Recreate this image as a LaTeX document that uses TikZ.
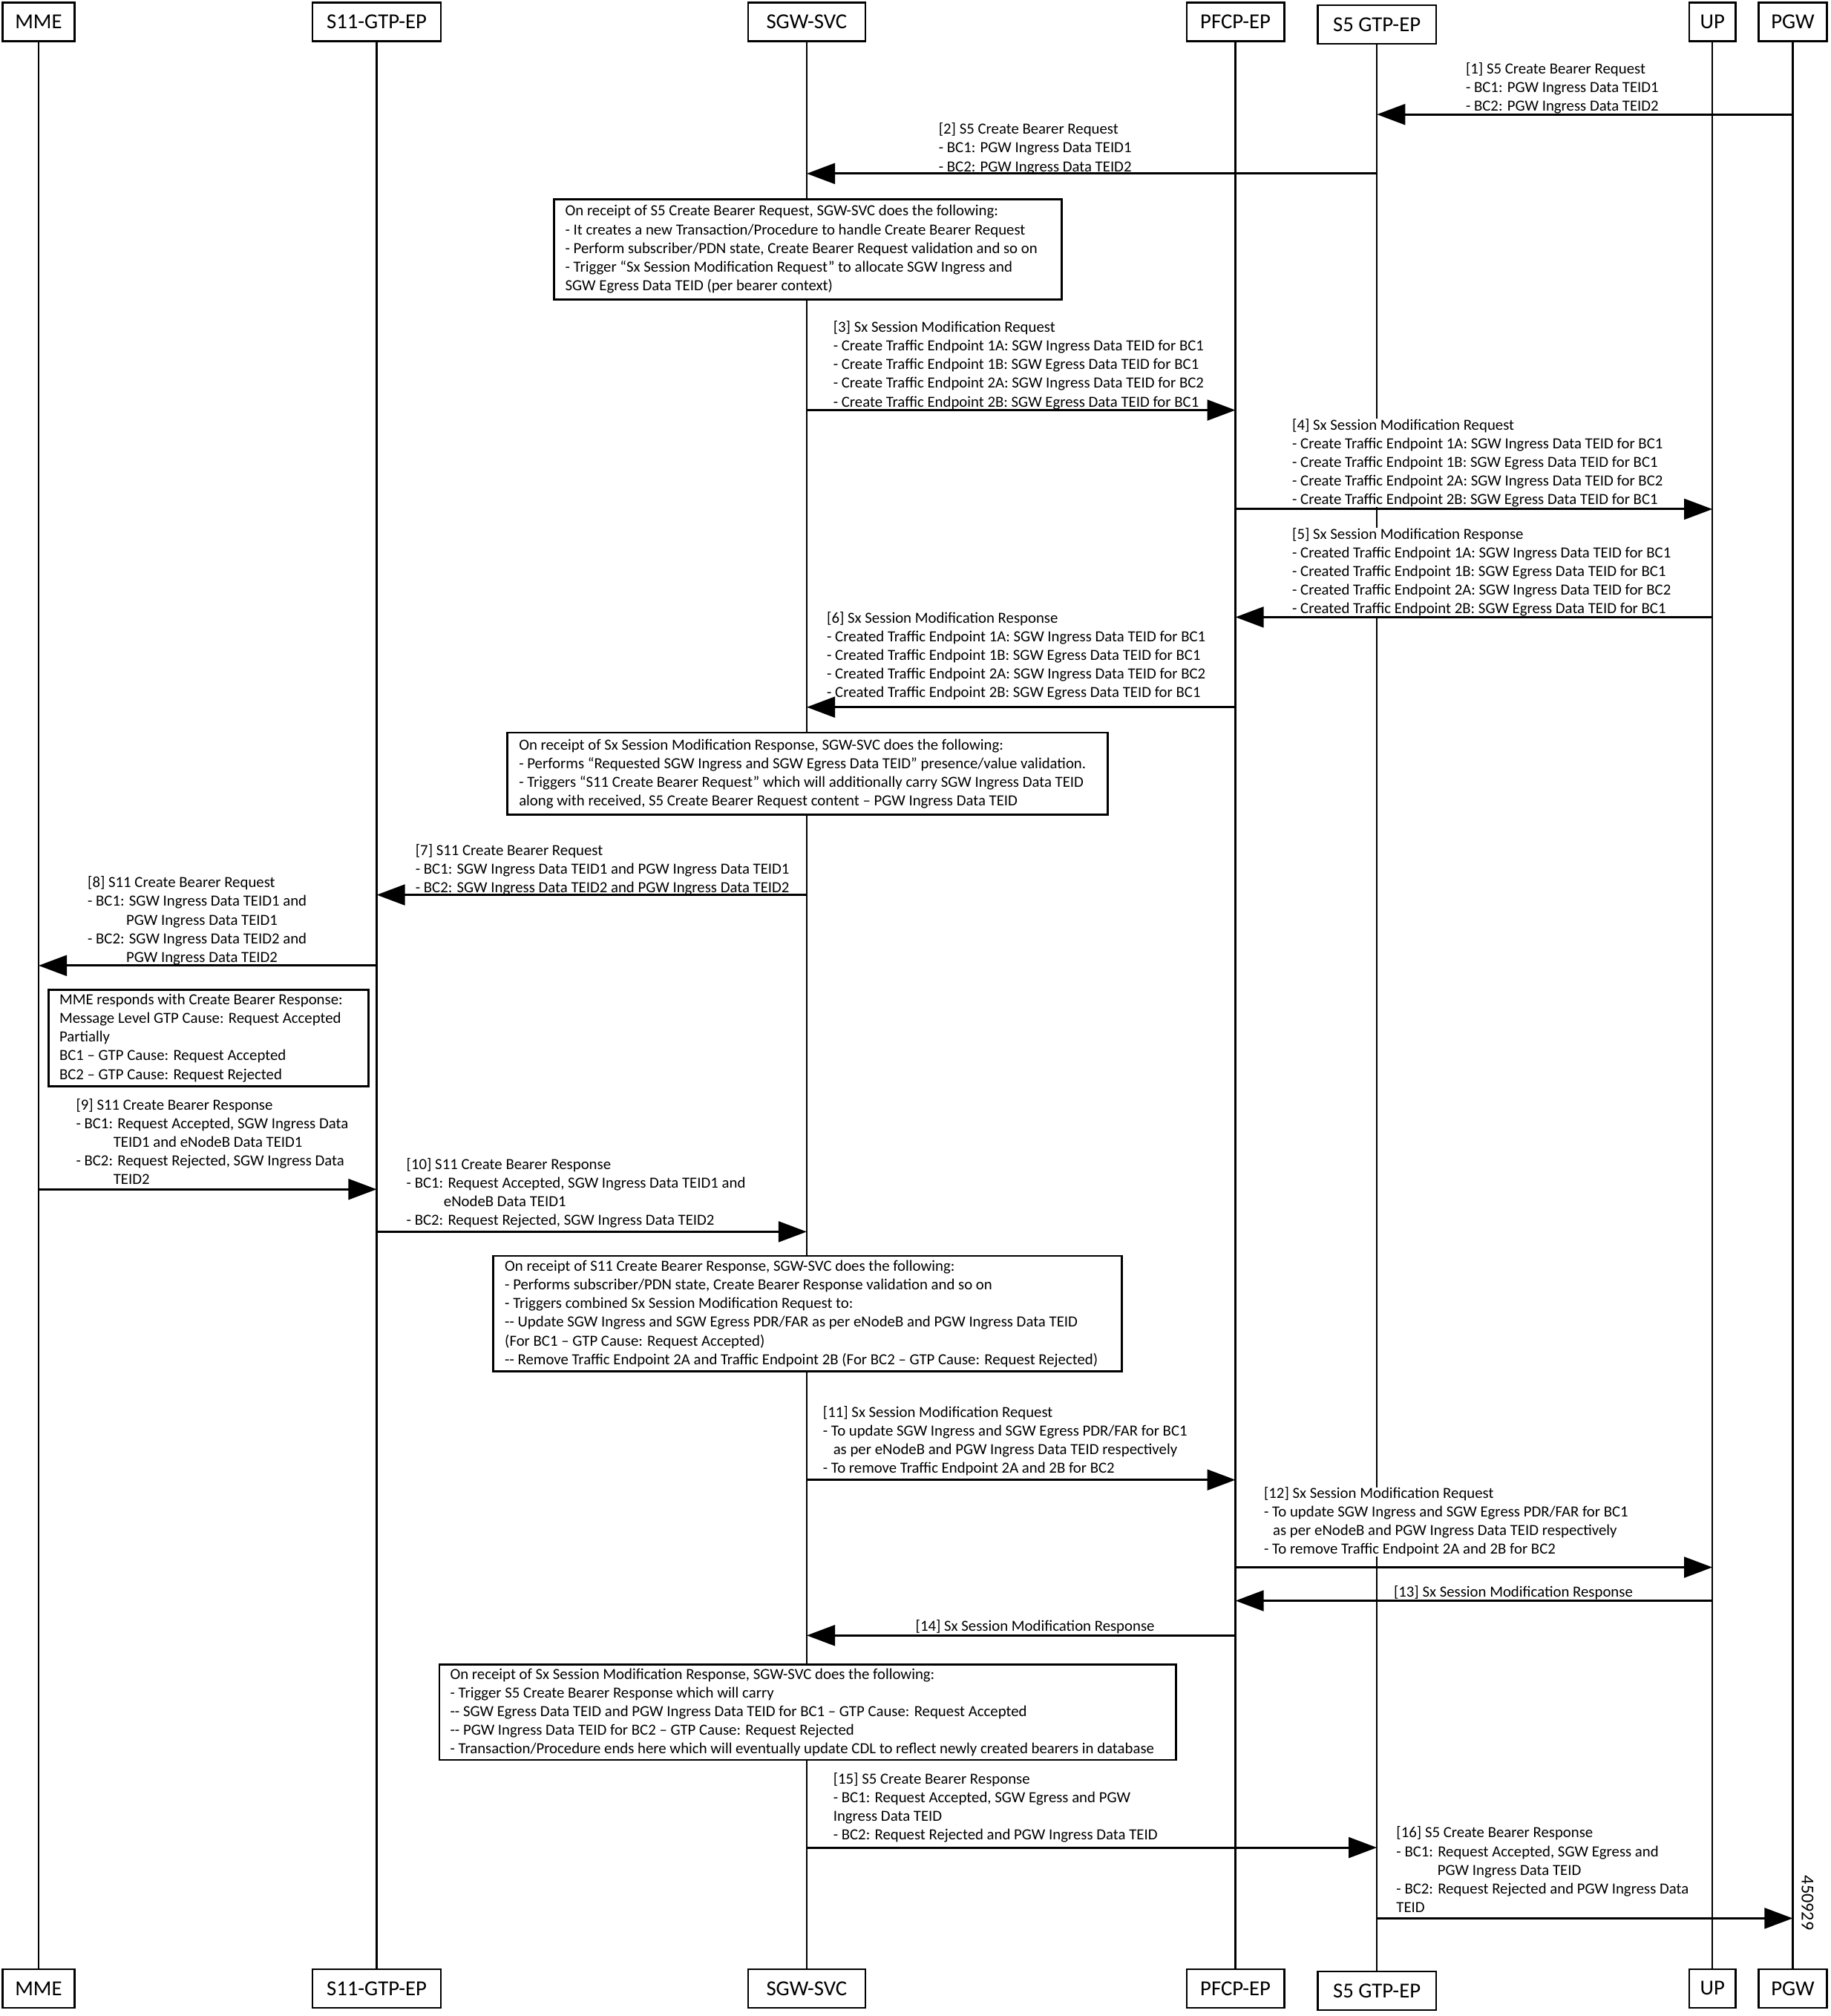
\documentclass[tikz,border=0pt]{standalone}
\usepackage{fontspec}
\setmainfont{Carlito}
\usepackage{xcolor}
\usepackage{tikz}
\usetikzlibrary{arrows.meta}

\tikzset{
  actor/.style = {draw, line width = 1.4pt, fill = white, minimum height = 30pt, inner sep = 0pt, font = \fontsize{16.6}{20}\selectfont},
  lifeline/.style = {line width = 1.3pt},
  msg/.style = {line width = 1.8pt, -{Triangle[length = 22pt, width = 16pt]}},
  msgtext/.style = {anchor = north west, align = left, inner sep = 0pt, fill = white, yshift = -1pt, font = \fontsize{12}{14.5}\selectfont},
  notebox/.style = {draw, line width = 1.6pt, fill = white, anchor = north west, inner sep = 0pt},
  notetext/.style = {anchor = west, align = left, inner sep = 0pt, font = \fontsize{12}{14.5}\selectfont}
}

\begin{document}
\begin{tikzpicture}[x = 1pt, y = -1pt]
    \useasboundingbox (0, 0) rectangle (1424, 1568);
    {
      \node[actor, minimum width = 56pt] (MME) at (30, 17) {MME};
      \node[actor, minimum width = 100pt] (S11) at (293, 17) {S11-GTP-EP};
      \node[actor, minimum width = 91pt] (SGW) at (627.5, 17) {SGW-SVC};
      \node[actor, minimum width = 76pt] (PFCP) at (961, 17) {PFCP-EP};
      \node[actor, minimum width = 92pt] (S5) at (1071, 19) {S5 GTP-EP};
      \node[actor, minimum width = 36pt] (UP) at (1332, 17) {UP};
      \node[actor, minimum width = 53pt] (PGW) at (1394.5, 17) {PGW};
    }
    {
      \node[actor, minimum width = 56pt] (MMEb) at (30, 1546.5) {MME};
      \node[actor, minimum width = 100pt] (S11b) at (293, 1546.5) {S11-GTP-EP};
      \node[actor, minimum width = 91pt] (SGWb) at (627.5, 1546.5) {SGW-SVC};
      \node[actor, minimum width = 76pt] (PFCPb) at (961, 1546.5) {PFCP-EP};
      \node[actor, minimum width = 92pt] (S5b) at (1071, 1548.5) {S5 GTP-EP};
      \node[actor, minimum width = 36pt] (UPb) at (1332, 1546.5) {UP};
      \node[actor, minimum width = 53pt] (PGWb) at (1394.5, 1546.5) {PGW};
    }
    \draw[lifeline] (MME.south) -- (MMEb.north);
    \draw[lifeline] (S11.south) -- (S11b.north);
    \draw[lifeline] (SGW.south) -- (SGWb.north);
    \draw[lifeline] (PFCP.south) -- (PFCPb.north);
    \draw[lifeline] (S5.south) -- (S5b.north);
    \draw[lifeline] (UP.south) -- (UPb.north);
    \draw[lifeline] (PGW.south) -- (PGWb.north);

    \node[notebox, minimum width = 395pt, minimum height = 78pt] (n1) at (430, 154) {};
    \node[notetext] (t1) at ([xshift = 9.5pt]n1.west) {On receipt of S5 Create Bearer Request, SGW-SVC does the following:\\- It creates a new Transaction/Procedure to handle Create Bearer Request\\- Perform subscriber/PDN state, Create Bearer Request validation and so on\\- Trigger “Sx Session Modification Request” to allocate SGW Ingress and\\SGW Egress Data TEID (per bearer context)};
    \node[notebox, minimum width = 467pt, minimum height = 64pt] (n2) at (394, 569) {};
    \node[notetext] (t2) at ([xshift = 9.5pt]n2.west) {On receipt of Sx Session Modification Response, SGW-SVC does the following:\\- Performs “Requested SGW Ingress and SGW Egress Data TEID” presence/value validation.\\- Triggers “S11 Create Bearer Request” which will additionally carry SGW Ingress Data TEID\\along with received, S5 Create Bearer Request content – PGW Ingress Data TEID};
    \node[notebox, minimum width = 249pt, minimum height = 75pt] (n3) at (37, 769) {};
    \node[notetext] (t3) at ([xshift = 9pt]n3.west) {MME responds with Create Bearer Response:\\Message Level GTP Cause: Request Accepted\\Partially\\BC1 – GTP Cause: Request Accepted\\BC2 – GTP Cause: Request Rejected};
    \node[notebox, minimum width = 489pt, minimum height = 90pt] (n4) at (383, 976) {};
    \node[notetext] (t4) at ([xshift = 9.5pt]n4.west) {On receipt of S11 Create Bearer Response, SGW-SVC does the following:\\- Performs subscriber/PDN state, Create Bearer Response validation and so on\\- Triggers combined Sx Session Modification Request to:\\-{}- Update SGW Ingress and SGW Egress PDR/FAR as per eNodeB and PGW Ingress Data TEID\\(For BC1 – GTP Cause: Request Accepted)\\-{}- Remove Traffic Endpoint 2A and Traffic Endpoint 2B (For BC2 – GTP Cause: Request Rejected)};
    \node[notebox, minimum width = 573pt, minimum height = 74pt] (n5) at (341, 1294) {};
    \node[notetext] (t5) at ([xshift = 9pt]n5.west) {On receipt of Sx Session Modification Response, SGW-SVC does the following:\\- Trigger S5 Create Bearer Response which will carry\\-{}- SGW Egress Data TEID and PGW Ingress Data TEID for BC1 – GTP Cause: Request Accepted\\-{}- PGW Ingress Data TEID for BC2 – GTP Cause: Request Rejected\\- Transaction/Procedure ends here which will eventually update CDL to reflect newly created bearers in database};

    \node[msgtext] (l1) at (1140, 47.5) {[1] S5 Create Bearer Request\\- BC1: PGW Ingress Data TEID1\\- BC2: PGW Ingress Data TEID2};
    \node[msgtext] (l2) at (730, 94.5) {[2] S5 Create Bearer Request\\- BC1: PGW Ingress Data TEID1\\- BC2: PGW Ingress Data TEID2};
    \node[msgtext] (l3) at (648, 248.5) {[3] Sx Session Modification Request\\- Create Traffic Endpoint 1A: SGW Ingress Data TEID for BC1\\- Create Traffic Endpoint 1B: SGW Egress Data TEID for BC1\\- Create Traffic Endpoint 2A: SGW Ingress Data TEID for BC2\\- Create Traffic Endpoint 2B: SGW Egress Data TEID for BC1};
    \node[msgtext] (l4) at (1005, 324.5) {[4] Sx Session Modification Request\\- Create Traffic Endpoint 1A: SGW Ingress Data TEID for BC1\\- Create Traffic Endpoint 1B: SGW Egress Data TEID for BC1\\- Create Traffic Endpoint 2A: SGW Ingress Data TEID for BC2\\- Create Traffic Endpoint 2B: SGW Egress Data TEID for BC1};
    \node[msgtext] (l5) at (1005, 409.5) {[5] Sx Session Modification Response\\- Created Traffic Endpoint 1A: SGW Ingress Data TEID for BC1\\- Created Traffic Endpoint 1B: SGW Egress Data TEID for BC1\\- Created Traffic Endpoint 2A: SGW Ingress Data TEID for BC2\\- Created Traffic Endpoint 2B: SGW Egress Data TEID for BC1};
    \node[msgtext] (l6) at (643, 474.5) {[6] Sx Session Modification Response\\- Created Traffic Endpoint 1A: SGW Ingress Data TEID for BC1\\- Created Traffic Endpoint 1B: SGW Egress Data TEID for BC1\\- Created Traffic Endpoint 2A: SGW Ingress Data TEID for BC2\\- Created Traffic Endpoint 2B: SGW Egress Data TEID for BC1};
    \node[msgtext] (l7) at (323, 655.5) {[7] S11 Create Bearer Request\\- BC1: SGW Ingress Data TEID1 and PGW Ingress Data TEID1\\- BC2: SGW Ingress Data TEID2 and PGW Ingress Data TEID2};
    \node[msgtext] (l8) at (68, 680.5) {[8] S11 Create Bearer Request\\- BC1: SGW Ingress Data TEID1 and\\\hspace*{30pt}PGW Ingress Data TEID1\\- BC2: SGW Ingress Data TEID2 and\\\hspace*{30pt}PGW Ingress Data TEID2};
    \node[msgtext] (l9) at (59, 853.5) {[9] S11 Create Bearer Response\\- BC1: Request Accepted, SGW Ingress Data\\\hspace*{29pt}TEID1 and eNodeB Data TEID1\\- BC2: Request Rejected, SGW Ingress Data\\\hspace*{29pt}TEID2};
    \node[msgtext] (l10) at (316, 899.5) {[10] S11 Create Bearer Response\\- BC1: Request Accepted, SGW Ingress Data TEID1 and\\\hspace*{29pt}eNodeB Data TEID1\\- BC2: Request Rejected, SGW Ingress Data TEID2};
    \node[msgtext] (l11) at (640, 1092.5) {[11] Sx Session Modification Request\\- To update SGW Ingress and SGW Egress PDR/FAR for BC1\\\hspace*{8pt}as per eNodeB and PGW Ingress Data TEID respectively\\- To remove Traffic Endpoint 2A and 2B for BC2};
    \node[msgtext] (l12) at (983, 1155.5) {[12] Sx Session Modification Request\\- To update SGW Ingress and SGW Egress PDR/FAR for BC1\\\hspace*{7pt}as per eNodeB and PGW Ingress Data TEID respectively\\- To remove Traffic Endpoint 2A and 2B for BC2};
    \node[msgtext] (l13) at (1084, 1232.5) {[13] Sx Session Modification Response};
    \node[msgtext] (l14) at (712, 1258.5) {[14] Sx Session Modification Response};
    \node[msgtext] (l15) at (648, 1377.5) {[15] S5 Create Bearer Response\\- BC1: Request Accepted, SGW Egress and PGW\\Ingress Data TEID\\- BC2: Request Rejected and PGW Ingress Data TEID};
    \node[msgtext] (l16) at (1086, 1419.5) {[16] S5 Create Bearer Response\\- BC1: Request Accepted, SGW Egress and\\\hspace*{32pt}PGW Ingress Data TEID\\- BC2: Request Rejected and PGW Ingress Data\\TEID};

    \coordinate (m1) at (0, 89);
    \coordinate (m2) at (0, 135);
    \coordinate (m3) at (0, 319);
    \coordinate (m4) at (0, 396);
    \coordinate (m5) at (0, 480);
    \coordinate (m6) at (0, 550);
    \coordinate (m7) at (0, 696);
    \coordinate (m8) at (0, 751);
    \coordinate (m9) at (0, 925);
    \coordinate (m10) at (0, 958);
    \coordinate (m11) at (0, 1151);
    \coordinate (m12) at (0, 1219);
    \coordinate (m13) at (0, 1245);
    \coordinate (m14) at (0, 1272);
    \coordinate (m15) at (0, 1437);
    \coordinate (m16) at (0, 1492);
    \draw[msg] (PGW |- m1) -- (S5 |- m1);
    \draw[msg] (S5 |- m2) -- (SGW |- m2);
    \draw[msg] (SGW |- m3) -- (PFCP |- m3);
    \draw[msg] (PFCP |- m4) -- (UP |- m4);
    \draw[msg] (UP |- m5) -- (PFCP |- m5);
    \draw[msg] (PFCP |- m6) -- (SGW |- m6);
    \draw[msg] (SGW |- m7) -- (S11 |- m7);
    \draw[msg] (S11 |- m8) -- (MME |- m8);
    \draw[msg] (MME |- m9) -- (S11 |- m9);
    \draw[msg] (S11 |- m10) -- (SGW |- m10);
    \draw[msg] (SGW |- m11) -- (PFCP |- m11);
    \draw[msg] (PFCP |- m12) -- (UP |- m12);
    \draw[msg] (UP |- m13) -- (PFCP |- m13);
    \draw[msg] (PFCP |- m14) -- (SGW |- m14);
    \draw[msg] (SGW |- m15) -- (S5 |- m15);
    \draw[msg] (S5 |- m16) -- (PGW |- m16);

    \node[rotate = -90, inner sep = 0pt, font = \fontsize{14}{16}\selectfont] (A) at (1406, 1480) {450929};
\end{tikzpicture}
\end{document}
